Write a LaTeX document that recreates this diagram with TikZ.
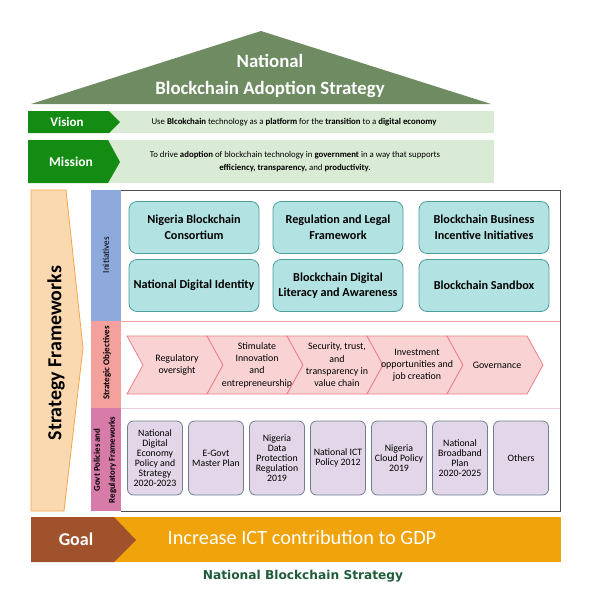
\documentclass[tikz,border=0pt]{standalone}
\usepackage{fontspec}
\setmainfont{Carlito}
\newfontfamily\capfont{DejaVu Sans}
\definecolor{roofgreen}{HTML}{6E8B62}
\definecolor{bandgreen}{HTML}{D9EBD4}
\definecolor{arrowgreen}{HTML}{148C14}
\definecolor{sfill}{HTML}{FBD9B0}
\definecolor{sline}{HTML}{F5A54A}
\definecolor{initcol}{HTML}{8EAADC}
\definecolor{objcol}{HTML}{F4A09C}
\definecolor{govcol}{HTML}{D77BA8}
\definecolor{initfill}{HTML}{B3E2E3}
\definecolor{initline}{HTML}{4F9D9B}
\definecolor{objfill}{HTML}{F9D3D3}
\definecolor{objline}{HTML}{EE7F86}
\definecolor{polfill}{HTML}{E3D6E8}
\definecolor{polline}{HTML}{6F7F92}
\definecolor{goalbrown}{HTML}{A0522D}
\definecolor{goalorange}{HTML}{F0A30A}
\definecolor{capgreen}{HTML}{1F5C3A}
\begin{document}
\begin{tikzpicture}[x=1pt,y=-1pt,
    initbox/.style={draw=initline,fill=initfill,line width=0.8pt,rounded corners=8pt,
      minimum width=130pt,minimum height=52pt,align=center,
      font=\fontsize{12.2}{15.5}\selectfont\bfseries},
    polbox/.style={draw=polline,fill=polfill,line width=0.8pt,rounded corners=6pt,
      minimum width=55pt,minimum height=74pt,inner sep=1pt,align=center,
      font=\fontsize{9.8}{10}\selectfont},
    objtext/.style={align=center,font=\fontsize{9.9}{12.3}\selectfont},
    collabel/.style={rotate=90,align=center,font=\fontsize{9.3}{14}\selectfont}]
  \useasboundingbox (0,0) rectangle (593,597);

  % roof
  \fill[roofgreen] (31,104) -- (261,31) -- (491,104) -- cycle;
  \node (title) at (270,76) [align=center,text=white,font=\fontsize{18.8}{27}\selectfont\bfseries]
    {National\\Blockchain Adoption Strategy};

  % vision and mission
  \fill[bandgreen] (28,111) rectangle (494,133);
  \fill[arrowgreen] (28,111) -- (109,111) -- (120,122) -- (109,133) -- (28,133) -- cycle;
  \node (vision) at (67,122) [text=white,font=\fontsize{13}{15}\selectfont\bfseries] {Vision};
  \node (visiontxt) at (294,122) [font=\fontsize{8.8}{10}\selectfont]
    {Use \textbf{Blcokchain} technology as a \textbf{platform} for the \textbf{transition} to a \textbf{digital economy}};

  \fill[bandgreen] (28,140) rectangle (494,183);
  \fill[arrowgreen] (28,140) -- (108,140) -- (120,162) -- (108,183) -- (28,183) -- cycle;
  \node (mission) at (71,162) [text=white,font=\fontsize{13.5}{15}\selectfont\bfseries] {Mission};
  \node (missiontxt) at (295,161.5) [align=center,font=\fontsize{8.8}{13}\selectfont]
    {To drive \textbf{adoption} of blockchain technology in \textbf{government} in a way that supports\\
     \textbf{efficiency, transparency,} and \textbf{productivity.}};

  % strategy frameworks arrow
  \draw[sline,fill=sfill,line width=0.8pt] (31,190) -- (66,190) -- (83,348) -- (64,511) -- (31,511) -- cycle;
  \node (frameworks) at (56,353) [rotate=90,font=\fontsize{19.9}{21}\selectfont\bfseries] {Strategy Frameworks};

  % columns
  \fill[initcol] (91,190) rectangle (121,321);
  \fill[objcol] (91,321) rectangle (121,408);
  \fill[govcol] (91,408) rectangle (121,511);
  \node (initlabel) at (106,255) [collabel] {Initiatives};
  \node (objlabel) at (107,363) [collabel,font=\fontsize{9}{14}\selectfont\bfseries] {Strategic Objectives};
  \node (govlabel) at (105,460) [collabel,font=\fontsize{8.8}{15}\selectfont\bfseries]
    {Govt Policies and\\Regulatory Frameworks};

  % frame
  \draw[objcol,line width=0.8pt] (121,321) -- (560,321);
  \draw[polfill!80!purple!60,line width=0.6pt] (121,408) -- (560,408);
  \draw[black!70,line width=1pt] (121,190) -- (560,190) -- (560,511) -- (121,511);

  % initiatives
  \node (consortium) at (194,227.5) [initbox] {Nigeria Blockchain\\Consortium};
  \node (regulation) at (338,227.5) [initbox] {Regulation and Legal\\Framework};
  \node (incentive) at (484,227.5) [initbox] {Blockchain Business\\Incentive Initiatives};
  \node (identity) at (194,285.5) [initbox] {National Digital Identity};
  \node (literacy) at (338,285.5) [initbox] {Blockchain Digital\\Literacy and Awareness};
  \node (sandbox) at (484,285.5) [initbox] {Blockchain Sandbox};

  % strategic objectives
  \foreach \i/\txt in {0/{Regulatory\\oversight},
      1/{Stimulate\\Innovation\\and\\entrepreneurship},
      2/{Security, trust,\\and\\transparency in\\value chain},
      3/{Investment\\opportunities and\\job creation},
      4/{Governance}} {
    \pgfmathsetmacro{\xa}{127+80*\i}
    \draw[objline,fill=objfill,line width=0.8pt] (\xa,336) -- (\xa+80,336) -- (\xa+96,365)
      -- (\xa+80,394) -- (\xa,394) -- (\xa+16,365) -- cycle;
    \node (obj\i) at (\xa+50,365) [objtext] {\txt};
  }

  % policies
  \foreach \i/\txt in {0/{National\\Digital\\Economy\\Policy and\\Strategy\\2020-2023},
      1/{E-Govt\\Master Plan},
      2/{Nigeria\\Data\\Protection\\Regulation\\2019},
      3/{National ICT\\Policy 2012},
      4/{Nigeria\\Cloud Policy\\2019},
      5/{National\\Broadband\\Plan\\2020-2025},
      6/{Others}} {
    \node (pol\i) at (155+61*\i,458) [polbox] {\txt};
  }

  % goal
  \fill[goalorange] (31,517) rectangle (561,562);
  \fill[goalbrown] (31,517) -- (114,517) -- (136,540) -- (114,562) -- (31,562) -- cycle;
  \node (goal) at (76,539) [text=white,font=\fontsize{18}{20}\selectfont\bfseries] {Goal};
  \node (goaltxt) at (302,538) [text=white,font=\fontsize{20.3}{22}\selectfont] {Increase ICT contribution to GDP};

  \node (caption) at (303,576) [text=capgreen,font=\capfont\fontsize{12.2}{14}\selectfont\bfseries] {National Blockchain Strategy};
\end{tikzpicture}
\end{document}
